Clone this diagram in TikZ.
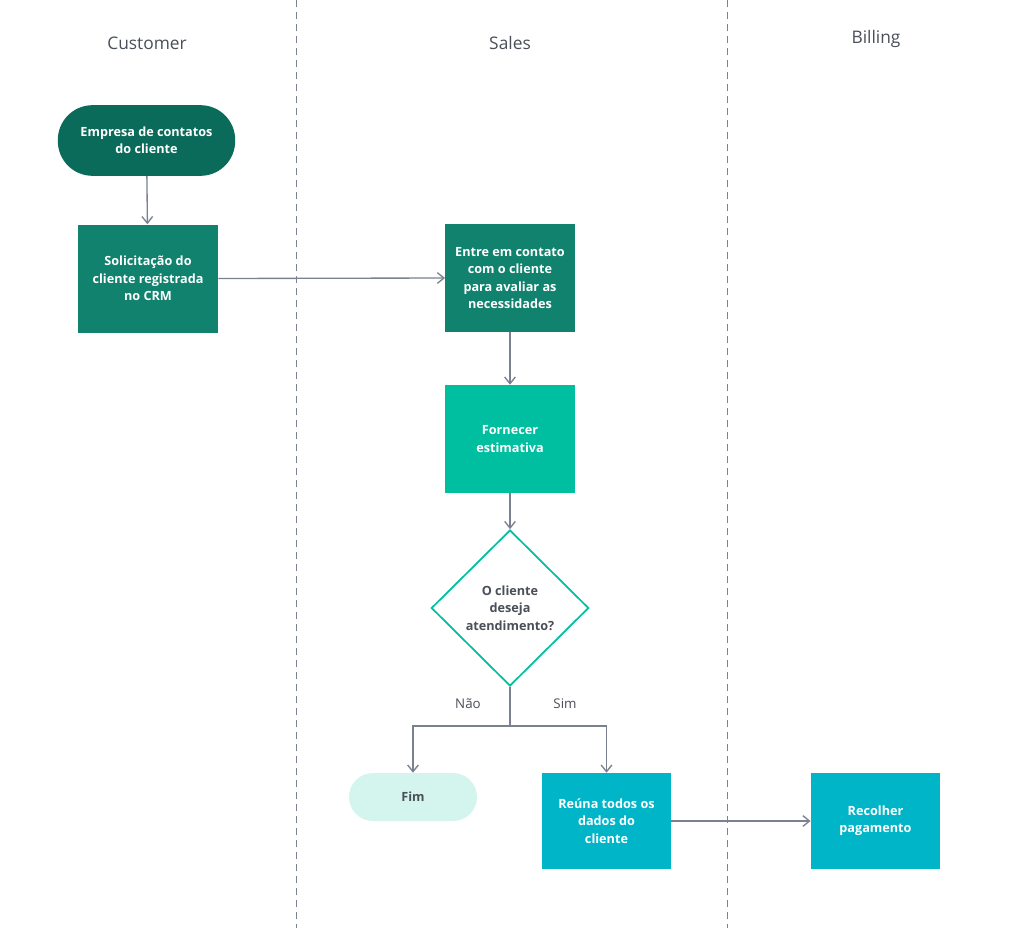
\documentclass[tikz,border=0pt]{standalone}
\usepackage{fontspec}
\setmainfont{Open Sans}
\usetikzlibrary{shapes.geometric,arrows.meta}
\definecolor{dk}{HTML}{0B6B5A}
\definecolor{md}{HTML}{10826D}
\definecolor{lt}{HTML}{00BFA0}
\definecolor{cy}{HTML}{00B5C8}
\definecolor{pale}{HTML}{D4F5EE}
\definecolor{ln}{HTML}{7A8190}
\definecolor{hd}{HTML}{4A4F58}
\begin{document}
\begin{tikzpicture}[x=0.75pt,y=-0.75pt,
 box/.style={draw=none,minimum width=105pt,minimum height=81pt,text=white,font=\bfseries\fontsize{9.5}{13}\selectfont,align=center,inner sep=2pt},
 arr/.style={draw=ln,line width=1pt,-{Straight Barb[length=5pt,width=8pt]}},
 hdr/.style={text=hd,font=\fontsize{13}{15}\selectfont},
 lane/.style={draw=ln,dash pattern=on 5pt off 4pt,line width=0.7pt}]
\useasboundingbox (0,0) rectangle (1024,928);
\fill[white] (0,0) rectangle (1024,928);
\node[hdr] (h1) at (147,43) {Customer};
\node[hdr] (h2) at (510,43) {Sales};
\node[hdr] (h3) at (876,39) {Billing};
\draw[lane] (296,0) -- (296,928);
\draw[lane] (727,0) -- (727,928);
\node[box,fill=dk,rounded corners=26pt,minimum width=133pt,minimum height=53pt] (s) at (146.5,140.5) {Empresa de contatos\\do cliente};
\node[box,fill=md] (b1) at (148,278.5) {Solicitação do\\cliente registrada\\no CRM};
\node[box,fill=md,minimum width=97pt] (b2) at (510,278) {Entre em contato\\com o cliente\\para avaliar as\\necessidades};
\node[box,fill=lt,minimum width=97pt] (b3) at (510,439) {Fornecer\\estimativa};
\node[diamond,draw=lt,line width=1.3pt,fill=white,minimum width=118pt,minimum height=117pt,inner sep=0pt,align=center,text=hd,font=\bfseries\fontsize{9.5}{13}\selectfont] (d) at (510,608) {O cliente\\deseja\\atendimento?};
\node[box,fill=pale,text=hd,rounded corners=18pt,minimum width=96pt,minimum height=36pt] (f) at (413,797) {Fim};
\node[box,fill=cy,minimum width=97pt,minimum height=72pt] (b4) at (606.5,821) {Reúna todos os\\dados do\\cliente};
\node[box,fill=cy,minimum width=97pt,minimum height=72pt] (b5) at (875.5,821) {Recolher\\pagamento};
\draw[arr] (s) -- (b1);
\draw[arr] (b1.east) -- (b2.west);
\draw[arr] (b2) -- (b3);
\draw[arr] (b3) -- (d);
\coordinate (j) at (510,726);
\draw[ln,line width=1pt] (d.south) -- (j);
\draw[arr] (j) -| (f.north);
\draw[arr] (j) -| (b4.north);
\draw[arr] (b4.east) -- (b5.west);
\node[text=hd,font=\fontsize{10}{12}\selectfont] (no) at (468,704) {Não};
\node[text=hd,font=\fontsize{10}{12}\selectfont] (si) at (565,704) {Sim};
\end{tikzpicture}
\end{document}
